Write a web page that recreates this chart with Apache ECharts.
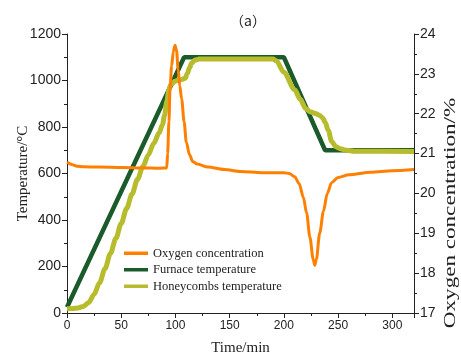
<!DOCTYPE html>
<html>
<head>
<meta charset="utf-8">
<script src="https://cdn.jsdelivr.net/npm/echarts@6/dist/echarts.min.js"></script>
<style>
  html, body {margin: 0; padding: 0; background: #fff;}
  #chart {width: 461px; height: 356px;}
</style>
</head>
<body>
<div id="chart"></div>
<script>
// time/min, value pairs
const furnaceTemp = [
  [0, 25], [108, 1100], [200, 1100], [238, 700], [320, 700]
];
const honeycombTemp = [
  [0, 18], [5, 19], [10, 22], [15, 28], [20, 45], [25, 80], [30, 130], [35, 190],
  [40, 255], [45, 320], [50, 385], [55, 450], [60, 512], [65, 575], [70, 630],
  [75, 680], [80, 730], [85, 775], [88, 810], [90, 850], [92, 910], [94, 960],
  [96, 985], [100, 998], [105, 1003], [109, 1010], [111, 1030], [113, 1055],
  [115, 1075], [118, 1088], [122, 1092], [190, 1092], [193, 1085], [200, 1035],
  [210, 960], [215, 920], [220, 880], [224, 866], [229, 858], [233, 850],
  [236, 838], [238, 820], [241, 785], [244, 738], [248, 715], [252, 706],
  [258, 700], [265, 696], [320, 695]
];
const oxygen = [
  [0, 20.78], [5, 20.72], [10, 20.68], [15, 20.67], [30, 20.66], [50, 20.65],
  [70, 20.64], [85, 20.63], [92, 20.64], [92.8, 21.0], [94, 21.8], [95, 22.6],
  [96.5, 23.2], [98, 23.55], [99.6, 23.72], [101, 23.6], [102.5, 23.1],
  [104, 22.7], [105.7, 22.37], [108, 21.8], [110, 21.29], [113, 20.97],
  [116, 20.8], [120, 20.74], [130, 20.66], [145, 20.6], [160, 20.55],
  [180, 20.52], [200, 20.52], [205, 20.5], [210, 20.42], [214, 20.25],
  [218, 19.9], [221, 19.5], [224, 18.9], [227, 18.35], [228.5, 18.2],
  [230, 18.35], [233, 19.0], [236.5, 19.55], [240, 20.0], [244, 20.27],
  [250, 20.4], [260, 20.47], [280, 20.53], [300, 20.57], [320, 20.6]
];
const seriesNames = ['Oxygen concentration', 'Furnace temperature', 'Honeycombs temperature'];

const serif = '"Liberation Serif", "Times New Roman", serif';
const sans = '"Liberation Sans", Arial, sans-serif';
const plain = v => String(v);

const axisCommon = {
  axisLine: {show: true, lineStyle: {color: '#222', width: 1}},
  axisTick: {show: true, inside: false, length: 5, lineStyle: {color: '#222'}},
  minorTick: {show: true, splitNumber: 2, length: 3, lineStyle: {color: '#222'}},
  splitLine: {show: false},
  minorSplitLine: {show: false},
  nameLocation: 'middle',
  nameMoveOverlap: false,
  nameTextStyle: {fontFamily: serif, fontSize: 15, color: '#222'}
};

const chart = echarts.init(document.getElementById('chart'));
chart.setOption({
  animation: false,
  backgroundColor: '#fff',
  title: {
    text: '（a）',
    left: 243,
    top: 9,
    textAlign: 'center',
    textStyle: {fontFamily: 'Noto Sans CJK SC', fontSize: 14, fontWeight: 'normal', color: '#222'}
  },
  grid: {left: 67, right: 47, top: 34, bottom: 43, containLabel: false, outerBoundsMode: 'none'},
  legend: {
    data: seriesNames.map(n => ({name: n, icon: 'rect'})),
    orient: 'vertical',
    left: 119,
    top: 241,
    itemWidth: 24,
    itemHeight: 3.5,
    itemGap: 2,
    textStyle: {fontFamily: serif, fontSize: 12.5, color: '#222', lineHeight: 14.5}
  },
  graphic: [{
    type: 'text',
    x: 451,
    y: 213,
    rotation: Math.PI / 2,
    scaleX: 1.4,
    silent: true,
    style: {
      text: 'Oxygen concentration/%',
      fontFamily: serif,
      fontSize: 16.5,
      fill: '#222',
      align: 'center',
      verticalAlign: 'middle'
    }
  }],
  xAxis: Object.assign({}, axisCommon, {
    type: 'value',
    min: 0,
    max: 320,
    interval: 50,
    name: 'Time/min',
    nameGap: 28,
    axisLabel: {fontFamily: sans, fontSize: 12, color: '#222', margin: 7, showMaxLabel: false, formatter: plain}
  }),
  yAxis: [
    Object.assign({}, axisCommon, {
      type: 'value',
      min: 0,
      max: 1200,
      interval: 200,
      name: 'Temperature/°C',
      nameGap: 36,
      axisLabel: {fontFamily: sans, fontSize: 14, color: '#222', margin: 6, formatter: plain}
    }),
    Object.assign({}, axisCommon, {
      type: 'value',
      position: 'right',
      min: 17,
      max: 24,
      interval: 1,
      axisLabel: {fontFamily: sans, fontSize: 14, color: '#222', margin: 6, formatter: plain}
    })
  ],
  series: [
    {
      name: 'Furnace temperature',
      type: 'line',
      data: furnaceTemp,
      yAxisIndex: 0,
      symbol: 'none',
      color: '#1b5a2a',
      lineStyle: {width: 4.5, color: '#1b5a2a'},
      z: 2
    },
    {
      name: 'Honeycombs temperature',
      type: 'line',
      data: honeycombTemp,
      yAxisIndex: 0,
      smooth: 0.3,
      smoothMonotone: 'x',
      symbol: 'none',
      color: '#b7bc2c',
      lineStyle: {width: 5, color: '#b7bc2c'},
      z: 3
    },
    {
      name: 'Oxygen concentration',
      type: 'line',
      data: oxygen,
      yAxisIndex: 1,
      smooth: 0.3,
      smoothMonotone: 'x',
      symbol: 'none',
      color: '#ff8000',
      lineStyle: {width: 3, color: '#ff8000'},
      z: 4
    }
  ]
});
</script>
</body>
</html>
